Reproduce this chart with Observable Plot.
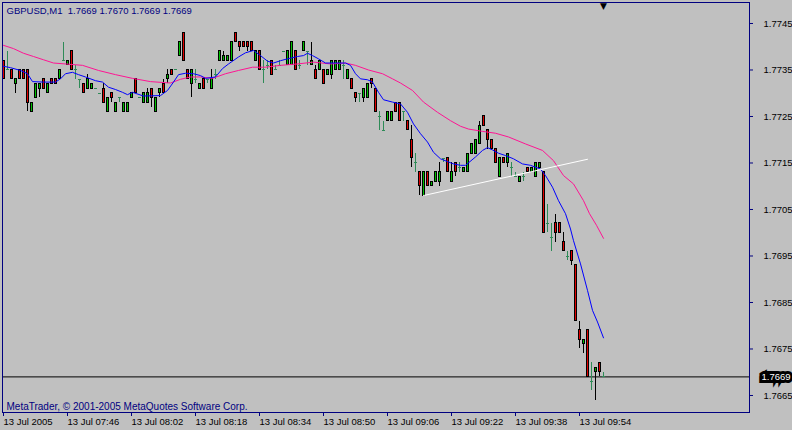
<!DOCTYPE html>
<html>
<head>
<meta charset="utf-8">
<script src="https://cdn.jsdelivr.net/npm/d3@7"></script>
<script src="https://cdn.jsdelivr.net/npm/@observablehq/plot@0.6"></script>
<style>
html, body { margin: 0; padding: 0; background: #c0c0c0; }
#chart svg { display: block; }
</style>
</head>
<body>
<div id="chart"></div>
<script>
// ---- data (GBPUSD M1, 13 Jul 2005, 07:30 .. 10:00) ----
const symbolTitle = "GBPUSD,M1  1.7669 1.7670 1.7669 1.7669";
const caption = "MetaTrader, © 2001-2005 MetaQuotes Software Corp.";

const openP = [1.7737,1.7735,1.7735,1.7732,1.7735,1.7735,1.7735,1.7726,1.7729,1.7731,
1.7733,1.7730,1.7733,1.7733,1.7733,1.7737,1.7736,1.7739,1.7735,1.7733,
1.7732,1.7731,1.7731,1.7731,1.7730,1.7731,1.7726,1.7730,1.7726,1.7729,
1.7726,1.7726,1.7729,1.7733,1.7729,1.7728,1.7728,1.7731,1.7726,1.7730,
1.7732,1.7733,1.7735,1.7735,1.7738,1.7743,1.7735,1.7732,1.7733,1.7731,
1.7733,1.7733,1.7731,1.7734,1.7737,1.7737,1.7737,1.7737,1.7743,1.7741,
1.7741,1.7741,1.7741,1.7737,1.7739,1.7735,1.7736,1.7737,1.7735,1.7736,
1.7739,1.7736,1.7736,1.7739,1.7736,1.7739,1.7739,1.7736,1.7735,1.7735,
1.7735,1.7734,1.7734,1.7735,1.7735,1.7736,1.7733,1.7733,1.7730,1.7730,
1.7729,1.7729,1.7733,1.7731,1.7725,1.7722,1.7724,1.7724,1.7728,1.7728,
1.7726,1.7724,1.7720,1.7715,1.7713,1.7708,1.7713,1.7710,1.7711,1.7711,
1.7716,1.7716,1.7711,1.7715,1.7714,1.7713,1.7713,1.7717,1.7717,1.7719,
1.7725,1.7722,1.7720,1.7718,1.7712,1.7716,1.7715,1.7714,1.7712,1.7711,
1.7712,1.7714,1.7713,1.7712,1.7714,1.7713,1.7702,1.7699,1.7702,1.7702,
1.7698,1.7695,1.7696,1.7693,1.7679,1.7676,1.7679,1.7668,1.7670,1.7672,
1.7669];
const highP = [1.7737,1.7739,1.7735,1.7733,1.7735,1.7735,1.7735,1.7728,1.7732,1.7732,
1.7733,1.7732,1.7733,1.7733,1.7735,1.7741,1.7737,1.7739,1.7736,1.7733,
1.7732,1.7734,1.7732,1.7731,1.7730,1.7732,1.7729,1.7730,1.7728,1.7729,
1.7728,1.7728,1.7730,1.7733,1.7729,1.7730,1.7731,1.7731,1.7729,1.7731,
1.7733,1.7735,1.7735,1.7735,1.7741,1.7743,1.7735,1.7735,1.7735,1.7732,
1.7733,1.7733,1.7735,1.7735,1.7739,1.7739,1.7738,1.7741,1.7743,1.7741,
1.7741,1.7741,1.7741,1.7739,1.7739,1.7737,1.7737,1.7737,1.7736,1.7737,
1.7739,1.7739,1.7741,1.7739,1.7737,1.7741,1.7739,1.7741,1.7736,1.7737,
1.7735,1.7735,1.7737,1.7737,1.7737,1.7737,1.7735,1.7733,1.7730,1.7730,
1.7731,1.7732,1.7733,1.7731,1.7726,1.7724,1.7726,1.7726,1.7728,1.7728,
1.7726,1.7724,1.7723,1.7717,1.7713,1.7713,1.7713,1.7711,1.7713,1.7715,
1.7716,1.7716,1.7715,1.7715,1.7715,1.7714,1.7717,1.7719,1.7720,1.7724,
1.7725,1.7722,1.7720,1.7718,1.7716,1.7716,1.7717,1.7715,1.7713,1.7712,
1.7713,1.7714,1.7714,1.7715,1.7715,1.7713,1.7706,1.7702,1.7704,1.7702,
1.7700,1.7696,1.7696,1.7693,1.7681,1.7677,1.7679,1.7672,1.7671,1.7672,
1.7670];
const lowP = [1.7733,1.7735,1.7733,1.7730,1.7733,1.7733,1.7726,1.7726,1.7729,1.7729,
1.7731,1.7730,1.7732,1.7732,1.7733,1.7737,1.7736,1.7735,1.7733,1.7731,
1.7730,1.7731,1.7731,1.7731,1.7730,1.7728,1.7726,1.7728,1.7726,1.7728,
1.7726,1.7726,1.7729,1.7730,1.7729,1.7728,1.7728,1.7727,1.7726,1.7729,
1.7730,1.7732,1.7734,1.7735,1.7738,1.7737,1.7733,1.7729,1.7732,1.7731,
1.7731,1.7732,1.7731,1.7733,1.7737,1.7737,1.7737,1.7737,1.7741,1.7739,
1.7740,1.7739,1.7739,1.7737,1.7735,1.7732,1.7735,1.7734,1.7735,1.7736,
1.7739,1.7736,1.7736,1.7735,1.7735,1.7739,1.7736,1.7736,1.7733,1.7735,
1.7732,1.7734,1.7733,1.7735,1.7735,1.7733,1.7733,1.7731,1.7728,1.7728,
1.7728,1.7729,1.7731,1.7726,1.7722,1.7722,1.7724,1.7724,1.7726,1.7724,
1.7724,1.7722,1.7714,1.7713,1.7708,1.7708,1.7710,1.7710,1.7711,1.7710,
1.7715,1.7713,1.7711,1.7712,1.7713,1.7713,1.7713,1.7717,1.7717,1.7719,
1.7723,1.7718,1.7718,1.7715,1.7712,1.7715,1.7714,1.7712,1.7712,1.7711,
1.7711,1.7713,1.7713,1.7712,1.7714,1.7700,1.7700,1.7696,1.7698,1.7700,
1.7696,1.7694,1.7693,1.7681,1.7675,1.7674,1.7669,1.7666,1.7664,1.7669,
1.7669];
const closeP = [1.7733,1.7735,1.7733,1.7733,1.7733,1.7733,1.7728,1.7728,1.7732,1.7732,
1.7731,1.7732,1.7732,1.7732,1.7735,1.7737,1.7737,1.7735,1.7735,1.7733,
1.7730,1.7733,1.7732,1.7731,1.7730,1.7728,1.7729,1.7729,1.7728,1.7729,
1.7728,1.7728,1.7730,1.7730,1.7729,1.7730,1.7730,1.7729,1.7729,1.7731,
1.7730,1.7734,1.7734,1.7735,1.7741,1.7737,1.7733,1.7735,1.7733,1.7732,
1.7731,1.7733,1.7733,1.7734,1.7739,1.7738,1.7738,1.7741,1.7741,1.7740,
1.7740,1.7740,1.7739,1.7739,1.7735,1.7735,1.7736,1.7734,1.7735,1.7736,
1.7739,1.7739,1.7741,1.7735,1.7736,1.7741,1.7739,1.7737,1.7733,1.7737,
1.7732,1.7735,1.7737,1.7737,1.7737,1.7736,1.7735,1.7731,1.7729,1.7730,
1.7731,1.7732,1.7732,1.7726,1.7725,1.7722,1.7726,1.7726,1.7726,1.7724,
1.7726,1.7722,1.7716,1.7715,1.7710,1.7713,1.7710,1.7711,1.7713,1.7713,
1.7716,1.7713,1.7713,1.7713,1.7714,1.7714,1.7717,1.7719,1.7720,1.7723,
1.7723,1.7720,1.7718,1.7715,1.7716,1.7715,1.7717,1.7714,1.7712,1.7712,
1.7712,1.7713,1.7714,1.7715,1.7715,1.7700,1.7702,1.7699,1.7700,1.7700,
1.7696,1.7695,1.7694,1.7681,1.7677,1.7677,1.7669,1.7668,1.7671,1.7670,
1.7669];

// fast moving average (blue): bar index / price
const maFastIdx = [0,1.75,4.25,6,7.25,10,13,14.25,15.5,17.25,18.75,20.5,23,24.75,26.25,28,29.75,31,32.25,35,
39.25,41,42.5,43.75,45.5,47.5,49.25,50.5,53,54.75,56.25,58.75,60.5,62.5,64.25,66,67.5,69.25,71,73.5,
75,76,77.25,78.75,80.5,83,85.5,86.75,88,89.25,91,92.25,93.75,95,97.25,99.25,101,102.5,104.25,106,
107.5,109.25,111,112.5,114.25,115.5,118,119.75,121,122.25,123.75,125.5,127.5,129.75,131.75,134.25,135.5,137.25,138.75,140.5,
141.75,142.5,144.25,146,147.25,148.5,150];
const maFastVal = [1.77358,1.77355,1.77349,1.77342,1.77325,1.77324,1.77324,1.77331,1.77342,1.77345,1.77340,1.77335,1.77327,1.77324,1.77313,1.77308,1.77302,1.77297,1.77302,1.77294,
1.77295,1.77306,1.77324,1.77340,1.77343,1.77342,1.77338,1.77332,1.77335,1.77353,1.77363,1.77378,1.77387,1.77392,1.77381,1.77369,1.77365,1.77370,1.77374,1.77379,
1.77381,1.77386,1.77381,1.77374,1.77365,1.77365,1.77365,1.77360,1.77342,1.77331,1.77329,1.77324,1.77302,1.77286,1.77281,1.77277,1.77259,1.77234,1.77213,1.77195,
1.77173,1.77159,1.77153,1.77148,1.77145,1.77145,1.77163,1.77177,1.77183,1.77178,1.77171,1.77166,1.77159,1.77148,1.77145,1.77137,1.77123,1.77098,1.77069,1.77041,
1.77008,1.76983,1.76933,1.76876,1.76833,1.76808,1.76774];

// slow moving average (pink)
const maSlowIdx = [0,2.5,5,7.5,10,12.5,15.5,19.75,23.75,28,32.25,36.75,41.75,44.25,46.75,49.25,52.25,55.5,58.75,62.25,
65.5,69.25,73.5,77.5,81.75,85.5,88,91.25,94.75,97.25,99.25,102.25,105,108.5,111.75,114.25,116.25,119.75,123,126.25,
130.5,134.75,137.5,140,142.5,145,146.5,148.25,150];
const maSlowVal = [1.77403,1.77396,1.77386,1.77379,1.77372,1.77365,1.77363,1.77360,1.77349,1.77340,1.77332,1.77325,1.77322,1.77330,1.77335,1.77335,1.77332,1.77342,1.77349,1.77356,
1.77356,1.77360,1.77363,1.77367,1.77363,1.77365,1.77360,1.77350,1.77342,1.77331,1.77322,1.77306,1.77281,1.77259,1.77241,1.77229,1.77223,1.77218,1.77214,1.77206,
1.77191,1.77177,1.77155,1.77123,1.77105,1.77069,1.77041,1.77016,1.76988];

// hand-drawn trend line (white)
const trendIdx = [105, 146];
const trendVal = [1.7708, 1.77158];

const bidPrice = 1.7669;
const shiftBar = 150;

const yTicks = [1.7665,1.7675,1.7685,1.7695,1.7705,1.7715,1.7725,1.7735,1.7745];
const xTickIdx = [0,16,32,48,64,80,96,112,128,144];
const xTickLabels = ["13 Jul 2005","13 Jul 07:46","13 Jul 08:02","13 Jul 08:18","13 Jul 08:34",
                     "13 Jul 08:50","13 Jul 09:06","13 Jul 09:22","13 Jul 09:38","13 Jul 09:54"];

// ---- build ----
const bars = openP.map((o, k) => ({i: k, o, h: highP[k], l: lowP[k], c: closeP[k]}));
const upBars = bars.filter(d => d.c > d.o);
const downBars = bars.filter(d => d.c < d.o);
const bodyBars = bars.filter(d => d.c !== d.o);
const dojiBars = bars.filter(d => d.c === d.o);
const fast = maFastIdx.map((i, k) => ({i, v: maFastVal[k]}));
const slow = maSlowIdx.map((i, k) => ({i, v: maSlowVal[k]}));
const trend = trendIdx.map((i, k) => ({i, v: trendVal[k]}));
const xLab = new Map(xTickIdx.map((d, k) => [d, xTickLabels[k]]));

const NAVY = "#000080";
const FONT = "'Liberation Sans', Arial, sans-serif";

const chart = Plot.plot({
  width: 792,
  height: 430,
  marginLeft: 2,
  marginRight: 43,
  marginTop: 2,
  marginBottom: 18,
  style: {background: "#c0c0c0", color: NAVY, fontFamily: FONT, fontSize: "10px", overflow: "visible"},
  x: {domain: [-0.25, 186.5], axis: null, label: null},
  y: {domain: [1.7661344, 1.7749516], axis: null, label: null},
  marks: [
    Plot.ruleY([bidPrice], {stroke: "#000", strokeWidth: 1}),
    // wicks
    Plot.ruleX(bodyBars, {x: "i", y1: "l", y2: "h", stroke: "#000", strokeWidth: 1, shapeRendering: "crispEdges"}),
    // bodies
    Plot.rect(upBars, {x1: d => d.i - 0.25, x2: d => d.i + 0.25, y1: "o", y2: "c", fill: "#00c000", stroke: "#000", strokeWidth: 1, shapeRendering: "crispEdges"}),
    Plot.rect(downBars, {x1: d => d.i - 0.25, x2: d => d.i + 0.25, y1: "o", y2: "c", fill: "#e00000", stroke: "#000", strokeWidth: 1, shapeRendering: "crispEdges"}),
    // doji
    Plot.ruleX(dojiBars, {x: "i", y1: "l", y2: "h", stroke: "#2e8b57", strokeWidth: 1, shapeRendering: "crispEdges"}),
    Plot.link(dojiBars, {x1: d => d.i - 0.3, x2: d => d.i + 0.3, y1: "o", y2: "o", stroke: "#2e8b57", strokeWidth: 1, shapeRendering: "crispEdges"}),
    // moving averages
    Plot.line(slow, {x: "i", y: "v", stroke: "#ff1493", strokeWidth: 1}),
    Plot.line(fast, {x: "i", y: "v", stroke: "#0000ff", strokeWidth: 1}),
    // trend line
    Plot.line(trend, {x: "i", y: "v", stroke: "#ffffff", strokeWidth: 1}),
    // chart shift marker
    Plot.text([shiftBar], {x: d => d, frameAnchor: "top", text: () => "▼", fill: "#000", fontSize: 9, lineAnchor: "top", dy: 0, fontFamily: "'DejaVu Sans', sans-serif"}),
    // frame
    Plot.frame({stroke: NAVY}),
    // titles
    Plot.text([symbolTitle], {frameAnchor: "top-left", textAnchor: "start", lineAnchor: "top", dx: 4, dy: 5, fill: NAVY, fontSize: 9.5}),
    Plot.text([caption], {frameAnchor: "bottom-left", textAnchor: "start", lineAnchor: "bottom", dx: 4, dy: -3, fill: NAVY, fontSize: 10}),
    // axes
    Plot.axisY(yTicks, {anchor: "right", label: null, tickSize: 3, tickPadding: 11, tickFormat: d3.format(".4f"), fontSize: 9.5, stroke: NAVY, fill: "#000"}),
    Plot.axisX(xTickIdx, {anchor: "bottom", label: null, tickSize: 4, tickPadding: 2, tickFormat: d => xLab.get(d), textAnchor: "start", fontSize: 9.5, stroke: NAVY, fill: "#000"}),
    // bid label
    Plot.text([bidPrice], {y: d => d, frameAnchor: "right", text: d => d3.format(".4f")(d), textAnchor: "start", dx: 12, fill: "#fff", stroke: "#000", strokeWidth: 6, strokeLinejoin: "miter", paintOrder: "stroke", fontSize: 9.5})
  ]
});
document.getElementById("chart").appendChild(chart);
</script>
</body>
</html>
